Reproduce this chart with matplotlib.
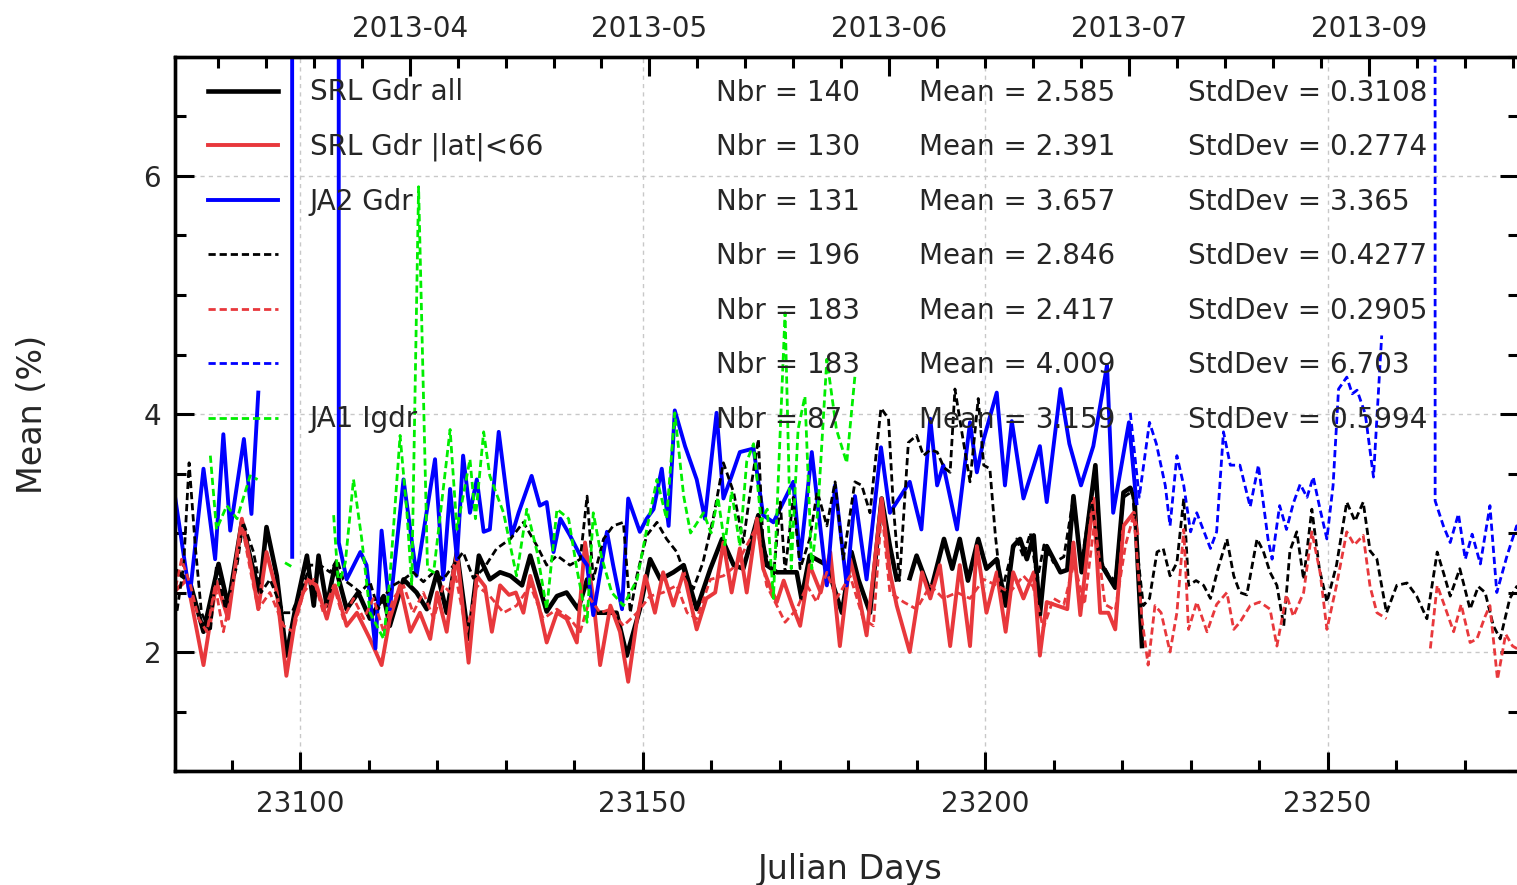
import matplotlib
matplotlib.use("Agg")
import matplotlib.pyplot as plt
from matplotlib.ticker import FixedLocator, MultipleLocator
import numpy as np

nan = np.nan

# SRL Gdr all (black solid)
srl_all_day = [23081.5, 23083.9, 23085.9, 23088.1, 23089.5, 23091.5, 23093.0, 23094.1, 23095.1, 23096.6,
               23098.0, 23099.3, 23101.0, 23102.0, 23102.7, 23103.9, 23105.1, 23106.8, 23108.5, 23110.2,
               23112.2, 23113.1, 23115.1, 23117.0, 23118.5, 23120.0, 23121.4, 23122.9, 23124.6, 23126.1,
               23127.7, 23129.2, 23130.7, 23132.4, 23133.6, 23136.0, 23137.5, 23138.9, 23140.6, 23141.9,
               23143.3, 23146.2, 23147.7, 23149.6, 23151.1, 23152.6, 23154.5, 23156.0, 23157.9, 23159.9,
               23161.6, 23163.3, 23164.7, 23166.9, 23168.1, 23169.6, 23172.5, 23173.2, 23174.4, 23176.9,
               23179.1, 23180.5, 23181.5, 23183.2, 23184.9, 23186.1, 23187.1, 23188.0, 23189.0, 23190.0,
               23192.0, 23194.0, 23195.2, 23196.3, 23197.5, 23199.0, 23200.2, 23201.7, 23203.0, 23204.1,
               23205.1, 23206.1, 23207.1, 23208.0, 23209.0, 23211.0, 23212.0, 23212.9, 23214.1, 23216.1,
               23217.0, 23219.0, 23220.2, 23221.2, 23221.8, 23222.9]
srl_all_val = [2.70, 2.59, 2.17, 2.74, 2.39, 3.09, 2.73, 2.50, 3.05, 2.64,
               1.97, 2.36, 2.81, 2.39, 2.81, 2.39, 2.73, 2.36, 2.50, 2.28,
               2.47, 2.22, 2.61, 2.50, 2.36, 2.67, 2.33, 2.84, 2.11, 2.81,
               2.61, 2.67, 2.64, 2.56, 2.81, 2.34, 2.47, 2.50, 2.36, 2.61,
               2.33, 2.33, 1.97, 2.36, 2.78, 2.61, 2.67, 2.73, 2.36, 2.70,
               2.95, 2.73, 2.70, 3.15, 2.73, 2.67, 2.67, 2.45, 2.81, 2.73,
               2.33, 2.84, 2.61, 2.33, 3.29, 2.89, 2.61, nan, 2.62, 2.81,
               2.50, 2.95, 2.70, 2.95, 2.60, 2.95, 2.70, 2.78, 2.39, 2.89,
               2.95, 2.78, 2.98, 2.31, 2.89, 2.67, 2.69, 3.31, 2.67, 3.57,
               2.73, 2.54, 3.34, 3.38, 3.30, 2.05]

# SRL Gdr |lat|<66 (red solid)
srl_lat_day = [23081.5, 23083.5, 23085.9, 23087.8, 23089.5, 23091.5, 23093.0, 23093.9, 23095.1, 23096.6,
               23098.0, 23099.3, 23101.0, 23102.4, 23103.9, 23105.1, 23106.8, 23108.3, 23110.2, 23111.9,
               23113.1, 23114.6, 23116.1, 23117.5, 23119.0, 23120.0, 23121.4, 23122.9, 23124.6, 23125.8,
               23127.0, 23128.0, 23129.2, 23130.5, 23131.5, 23132.6, 23133.6, 23134.8, 23136.0, 23137.5,
               23138.9, 23140.4, 23141.6, 23142.8, 23143.8, 23145.3, 23146.7, 23147.9, 23149.2, 23150.4,
               23151.8, 23153.0, 23154.5, 23156.0, 23157.9, 23159.3, 23160.6, 23161.8, 23163.0, 23164.2,
               23165.2, 23166.7, 23167.6, 23168.6, 23169.6, 23170.6, 23171.8, 23173.0, 23174.4, 23176.0,
               23177.4, 23178.8, 23180.3, 23181.5, 23182.7, 23184.9, 23186.1, 23187.1, 23189.0, 23190.8,
               23192.0, 23193.4, 23194.9, 23196.3, 23197.8, 23198.8, 23200.2, 23201.7, 23203.0, 23204.1,
               23205.6, 23207.1, 23208.0, 23209.0, 23211.0, 23212.0, 23212.9, 23213.9, 23215.8, 23216.8,
               23218.0, 23219.0, 23220.2, 23221.7, 23222.2]
srl_lat_val = [2.50, 2.61, 1.89, 2.59, 2.28, 3.12, 2.67, 2.36, 2.84, 2.50,
               1.80, 2.28, 2.61, 2.56, 2.28, 2.56, 2.22, 2.33, 2.11, 1.89,
               2.28, 2.56, 2.17, 2.33, 2.11, 2.50, 2.17, 2.84, 1.91, 2.64,
               2.55, 2.17, 2.56, 2.48, 2.50, 2.33, 2.64, 2.40, 2.08, 2.33,
               2.28, 2.08, 2.92, 2.45, 1.89, 2.39, 2.17, 1.75, 2.28, 2.64,
               2.33, 2.67, 2.39, 2.67, 2.19, 2.45, 2.50, 2.92, 2.50, 2.87,
               2.50, 3.12, 2.70, 2.55, 2.42, 2.60, 2.40, 2.22, 2.73, 2.50,
               2.84, 2.05, 2.78, 2.50, 2.14, 3.29, 2.67, 2.39, 2.00, 2.67,
               2.45, 2.73, 2.05, 2.73, 2.05, 2.89, 2.33, 2.67, 2.17, 2.67,
               2.45, 2.67, 1.97, 2.42, 2.38, 2.36, 2.92, 2.31, 3.29, 2.33,
               2.33, 2.19, 3.06, 3.17, 3.00]

# JA2 Gdr (blue solid)
ja2_gdr_day = [23081.5, 23083.9, 23085.9, 23087.6, 23088.8, 23089.8, 23091.8, 23092.9, 23093.9, 23096.0,
               23098.75, 23098.85, 23102.0, 23105.55, 23105.65, 23106.8, 23108.8, 23109.7, 23111.0, 23111.9,
               23113.1, 23115.1, 23117.0, 23119.7, 23120.9, 23121.9, 23122.9, 23123.8, 23124.8, 23125.8,
               23126.8, 23127.7, 23129.0, 23130.9, 23131.9, 23133.8, 23135.0, 23136.0, 23137.0, 23138.0,
               23139.4, 23140.9, 23141.9, 23142.8, 23144.8, 23145.7, 23147.0, 23147.9, 23149.6, 23150.6,
               23151.6, 23152.8, 23153.8, 23154.7, 23156.2, 23157.9, 23159.1, 23160.8, 23161.8, 23163.0,
               23164.2, 23166.2, 23167.6, 23169.1, 23172.0, 23173.0, 23174.7, 23175.7, 23176.9, 23178.1,
               23179.8, 23181.0, 23182.7, 23184.8, 23186.1, 23189.0, 23190.7, 23192.0, 23193.0, 23193.9,
               23195.9, 23197.8, 23198.8, 23199.8, 23201.7, 23202.9, 23203.9, 23205.6, 23208.0, 23209.0,
               23211.0, 23212.3, 23214.0, 23215.8, 23217.8, 23218.7, 23221.0, 23222.1]
ja2_gdr_val = [3.40, 2.47, 3.54, 2.78, 3.83, 3.02, 3.79, 3.16, 4.18, nan,
               60.0, 2.80, nan, 60.0, 2.92, 2.61, 2.84, 2.73, 2.03, 3.02,
               2.36, 3.45, 2.64, 3.62, 2.61, 3.37, 2.78, 3.65, 3.17, 3.45,
               3.01, 3.03, 3.85, 2.98, 3.17, 3.48, 3.23, 3.26, 2.84, 3.12,
               2.98, 2.81, 2.73, 2.31, 3.01, 2.73, 2.36, 3.29, 3.01, 3.12,
               3.20, 3.54, 3.06, 4.03, 3.73, 3.45, 3.12, 4.01, 3.29, 3.48,
               3.68, 3.71, 3.15, 3.09, 3.43, 2.78, 3.68, 3.17, 2.56, 3.40,
               2.56, 3.31, 2.61, 3.72, 3.17, 3.43, 3.03, 3.96, 3.40, 3.57,
               3.03, 3.93, 3.51, 3.79, 4.18, 3.40, 3.94, 3.29, 3.73, 3.26,
               4.21, 3.75, 3.40, 3.73, 4.41, 3.17, 3.93, 3.25]

# black dashed
blk_dash_day = [23081.5, 23082.0, 23083.0, 23083.8, 23084.7, 23085.6, 23086.9, 23087.8, 23089.1, 23090.8,
                23091.7, 23093.2, 23094.3, 23095.6, 23097.6, 23098.8, 23099.8, 23101.5, 23102.9, 23104.4,
                23105.4, 23106.3, 23107.5, 23108.8, 23110.2, 23111.4, 23112.7, 23113.6, 23115.1, 23116.5,
                23118.0, 23119.5, 23120.9, 23122.4, 23123.8, 23125.3, 23126.8, 23128.7, 23130.7, 23132.6,
                23134.6, 23136.0, 23137.5, 23139.4, 23140.9, 23141.9, 23142.8, 23144.3, 23145.7, 23147.2,
                23148.2, 23149.2, 23150.6, 23152.1, 23153.5, 23155.0, 23156.0, 23157.4, 23158.8, 23160.3,
                23161.8, 23163.3, 23164.7, 23165.6, 23166.9, 23167.6, 23169.1, 23170.1, 23170.8, 23172.0,
                23173.0, 23174.4, 23175.5, 23176.9, 23178.1, 23179.3, 23181.0, 23182.0, 23183.2, 23184.8,
                23185.9, 23186.6, 23187.5, 23188.8, 23190.0, 23191.0, 23192.0, 23193.0, 23194.0, 23194.9,
                23195.6, 23196.6, 23197.8, 23199.0, 23199.8, 23200.7, 23201.5, 23202.4, 23203.5, 23204.6,
                23205.6, 23206.6, 23207.6, 23208.6, 23210.0, 23211.5, 23212.9, 23214.0, 23215.5, 23216.6,
                23218.0, 23219.0, 23220.2, 23221.5, 23222.5, 23223.1, 23224.0, 23225.1, 23226.0, 23227.0,
                23228.0, 23229.0, 23229.7, 23230.8, 23231.9, 23232.9, 23234.0, 23235.3, 23236.3, 23237.2,
                23238.2, 23239.7, 23240.6, 23241.6, 23242.6, 23243.6, 23244.5, 23245.5, 23246.5, 23247.7,
                23248.8, 23249.9, 23251.3, 23252.8, 23254.0, 23255.2, 23256.2, 23257.2, 23258.6, 23260.1,
                23261.6, 23263.0, 23264.5, 23266.0, 23267.0, 23267.9, 23269.3, 23270.8, 23272.0, 23273.0,
                23274.2, 23275.2, 23276.6, 23277.6, 23278.5]
blk_dash_val = [2.40, 2.33, 2.73, 3.59, 2.89, 2.33, 2.17, 2.73, 2.36, 2.73,
                3.09, 2.84, 2.50, 2.61, 2.33, 2.33, 2.47, 2.73, 2.73, 2.67,
                2.78, 2.61, 2.56, 2.50, 2.59, 2.36, 2.50, 2.56, 2.61, 2.67,
                2.59, 2.67, 2.61, 2.73, 2.84, 2.62, 2.70, 2.87, 2.95, 3.09,
                2.89, 2.73, 2.81, 2.73, 2.78, 3.31, 2.61, 2.95, 3.06, 3.09,
                2.33, 2.65, 2.98, 3.09, 2.95, 2.84, 2.68, 2.53, 2.75, 3.12,
                3.59, 3.34, 2.92, 3.30, 3.79, 2.89, 2.64, 3.26, 2.67, 3.30,
                2.70, 2.95, 3.35, 3.06, 3.43, 2.78, 3.43, 3.40, 3.17, 4.05,
                3.96, 3.23, 2.60, 3.76, 3.82, 3.65, 3.70, 3.68, 3.55, 3.51,
                4.21, 3.85, 3.43, 4.13, 3.57, 3.54, 2.98, 2.50, 2.75, 2.95,
                2.80, 3.00, 2.60, 2.90, 2.75, 2.80, 3.30, 2.72, 3.30, 2.80,
                2.65, 2.60, 3.30, 3.35, 2.70, 2.39, 2.45, 2.84, 2.87, 2.64,
                2.75, 3.29, 2.56, 2.60, 2.56, 2.45, 2.70, 2.95, 2.64, 2.50,
                2.48, 2.95, 2.85, 2.67, 2.56, 2.22, 2.85, 3.01, 2.61, 3.20,
                2.70, 2.42, 2.73, 3.26, 3.10, 3.26, 2.85, 2.78, 2.33, 2.56,
                2.58, 2.47, 2.28, 2.84, 2.65, 2.47, 2.70, 2.36, 2.55, 2.50,
                2.22, 2.11, 2.45, 2.55, 2.50]

# red dashed
red_dash_day = [23081.5, 23082.7, 23084.0, 23085.2, 23086.4, 23087.6, 23088.8, 23090.0, 23091.5, 23093.0,
                23093.9, 23095.6, 23097.6, 23099.0, 23100.5, 23102.0, 23103.4, 23104.9, 23106.3, 23107.8,
                23109.3, 23110.7, 23112.2, 23113.6, 23115.1, 23116.5, 23118.0, 23119.5, 23120.9, 23121.9,
                23122.4, 23124.3, 23125.8, 23127.7, 23129.7, 23131.6, 23133.6, 23135.5, 23137.5, 23139.4,
                23140.9, 23142.3, 23143.8, 23145.3, 23147.2, 23149.2, 23151.1, 23153.0, 23155.0, 23156.5,
                23157.9, 23159.9, 23161.8, 23163.7, 23164.7, 23166.7, 23168.1, 23169.6, 23170.8, 23172.5,
                23174.0, 23175.4, 23176.9, 23178.3, 23180.3, 23182.2, 23183.7, 23184.9, 23186.1, 23188.1,
                23190.0, 23192.0, 23193.9, 23195.9, 23197.8, 23199.8, 23201.7, 23203.6, 23205.6, 23207.0,
                23208.5, 23210.0, 23211.5, 23213.0, 23214.5, 23216.0, 23217.5, 23219.0, 23220.5, 23221.7,
                23222.9, 23223.8, 23224.8, 23225.7, 23227.0, 23228.0, 23229.0, 23229.7, 23230.9, 23232.4,
                23233.8, 23235.3, 23236.3, 23237.2, 23238.7, 23240.1, 23241.6, 23242.6, 23244.0, 23245.0,
                23246.5, 23247.7, 23248.9, 23249.9, 23251.3, 23252.8, 23253.9, 23255.2, 23256.2, 23257.2,
                23258.6, 23262.0, 23265.0, 23266.0, 23267.0, 23268.4, 23269.5, 23270.8, 23271.8, 23273.0,
                23273.7, 23274.8, 23276.0, 23277.0, 23278.5]
red_dash_val = [2.45, 2.78, 2.56, 2.28, 2.17, 2.56, 2.17, 2.50, 3.06, 2.61,
                2.36, 2.50, 2.22, 2.17, 2.50, 2.61, 2.33, 2.56, 2.28, 2.45,
                2.28, 2.45, 2.17, 2.45, 2.56, 2.33, 2.50, 2.28, 2.56, 2.50,
                2.73, 2.17, 2.56, 2.47, 2.33, 2.39, 2.56, 2.28, 2.36, 2.28,
                2.17, 2.45, 2.33, 2.36, 2.22, 2.33, 2.47, 2.50, 2.56, 2.33,
                2.28, 2.61, 2.64, 2.73, 2.84, 3.06, 2.56, 2.39, 2.25, 2.36,
                2.56, 2.42, 2.67, 2.45, 2.64, 2.28, 2.22, 3.20, 2.50, 2.42,
                2.36, 2.56, 2.45, 2.50, 2.45, 2.61, 2.56, 2.50, 2.64, 2.55,
                2.20, 2.45, 2.40, 2.75, 2.40, 3.10, 2.40, 2.35, 2.90, 3.15,
                2.28, 1.89, 2.39, 2.33, 2.00, 2.33, 3.03, 2.19, 2.42, 2.17,
                2.40, 2.50, 2.19, 2.25, 2.39, 2.42, 2.36, 2.05, 2.48, 2.30,
                2.50, 3.01, 2.67, 2.19, 2.56, 3.01, 2.90, 2.98, 2.55, 2.33,
                2.28, nan, 2.03, 2.56, 2.40, 2.17, 2.40, 2.08, 2.11, 2.30,
                2.39, 1.77, 2.15, 2.05, 2.00]

# blue dashed
blu_dash_day = [23221.2, 23222.5, 23224.0, 23225.0, 23226.3, 23227.0, 23228.0, 23229.0, 23230.0, 23230.9,
                23232.9, 23233.8, 23234.8, 23235.8, 23237.2, 23238.7, 23239.9, 23241.3, 23241.9, 23243.0,
                23244.0, 23245.0, 23246.0, 23247.0, 23247.9, 23248.9, 23249.9, 23250.8, 23251.6, 23252.8,
                23253.6, 23254.3, 23255.5, 23256.7, 23257.9, 23262.0, 23265.6, 23265.7, 23266.9, 23267.9,
                23269.1, 23270.1, 23271.1, 23272.3, 23273.7, 23274.7, 23276.2, 23277.6, 23278.5]
blu_dash_val = [4.01, 3.30, 3.93, 3.75, 3.40, 3.06, 3.65, 3.40, 3.01, 3.17,
                2.87, 3.01, 3.85, 3.57, 3.57, 3.22, 3.57, 2.95, 2.78, 3.23,
                3.03, 3.25, 3.41, 3.30, 3.47, 3.20, 2.95, 3.40, 4.21, 4.31,
                4.17, 4.20, 4.00, 3.47, 4.66, nan, 60.0, 3.27, 3.06, 2.92,
                3.16, 2.78, 2.99, 2.74, 3.23, 2.50, 2.81, 3.06, 2.90]

# JA1 Igdr (green dashed)
ja1_day = [23086.9, 23087.8, 23089.3, 23090.8, 23092.7, 23093.8, 23096.0, 23097.8, 23099.0, 23102.0,
           23104.9, 23105.6, 23106.6, 23107.8, 23109.0, 23110.2, 23112.2, 23113.1, 23114.6, 23115.6,
           23116.3, 23117.3, 23118.6, 23119.5, 23120.5, 23121.9, 23122.9, 23124.8, 23125.6, 23126.8,
           23127.7, 23129.7, 23131.6, 23133.1, 23134.6, 23136.0, 23137.5, 23139.2, 23140.4, 23141.9,
           23142.8, 23144.0, 23145.5, 23147.2, 23149.2, 23150.6, 23152.1, 23153.5, 23154.7, 23156.0,
           23157.0, 23158.9, 23160.0, 23161.0, 23162.0, 23163.0, 23164.2, 23165.2, 23166.2, 23167.3,
           23168.2, 23169.1, 23170.8, 23171.7, 23172.7, 23173.7, 23174.7, 23175.6, 23176.9, 23178.3,
           23179.8, 23181.0]
ja1_val = [3.65, 3.03, 3.23, 3.12, 3.48, 3.45, nan, 2.75, 2.71, nan,
           3.15, 2.56, 2.75, 3.45, 2.95, 2.33, 2.11, 2.61, 3.82, 3.17,
           2.56, 5.91, 2.70, 2.67, 3.17, 3.87, 3.03, 3.62, 3.12, 3.85,
           3.48, 3.17, 2.64, 3.20, 2.84, 2.36, 3.20, 3.12, 2.70, 2.25,
           3.17, 2.80, 2.50, 2.39, 2.61, 3.03, 3.45, 3.12, 4.01, 3.31,
           3.00, 3.17, 3.00, 3.30, 2.90, 3.35, 2.89, 3.60, 3.75, 3.10,
           3.20, 2.45, 4.85, 2.70, 3.87, 4.15, 2.70, 3.20, 4.46, 3.87,
           3.59, 4.32]

labels = ["SRL Gdr all", "SRL Gdr |lat|<66", "JA2 Gdr", "", "", "", "JA1 Igdr"]
nbr = [140, 130, 131, 196, 183, 183, 87]
means = ["2.585", "2.391", "3.657", "2.846", "2.417", "4.009", "3.159"]
stds = ["0.3108", "0.2774", "3.365", "0.4277", "0.2905", "6.703", "0.5994"]

top_tick_days = [23116, 23151, 23186, 23221, 23256]
top_tick_labels = ["2013-04", "2013-05", "2013-06", "2013-07", "2013-09"]

RED = "#e8383c"
BLUE = "#0000ff"
GREEN = "#00ee00"
TXT = "#262626"
DASH = (0, (2.6, 1.4))

fig = plt.figure(figsize=(15.17, 8.85), dpi=100)
ax = fig.add_axes([0.1154, 0.1288, 0.886, 0.8068])

l1, = ax.plot(srl_all_day, srl_all_val, color="black", lw=3.3)
l2, = ax.plot(srl_lat_day, srl_lat_val, color=RED, lw=2.8)
l3, = ax.plot(ja2_gdr_day, ja2_gdr_val, color=BLUE, lw=2.8)
l4, = ax.plot(blk_dash_day, blk_dash_val, color="black", lw=2.0, ls=DASH)
l5, = ax.plot(red_dash_day, red_dash_val, color=RED, lw=2.0, ls=DASH)
l6, = ax.plot(blu_dash_day, blu_dash_val, color=BLUE, lw=2.0, ls=DASH)
l7, = ax.plot(ja1_day, ja1_val, color=GREEN, lw=2.0, ls=DASH)

ax.set_xlim(23081.75, 23277.96)
ax.set_ylim(1, 7)

ax.xaxis.set_major_locator(MultipleLocator(50))
ax.xaxis.set_minor_locator(MultipleLocator(10))
ax.yaxis.set_major_locator(MultipleLocator(2))
ax.yaxis.set_minor_locator(MultipleLocator(0.5))
ax.tick_params(which="both", direction="in", width=2.2, colors="black",
               labelcolor=TXT, labelsize=20, top=False, right=True)
ax.tick_params(which="major", length=14)
ax.tick_params(which="minor", length=8)
ax.tick_params(axis="x", pad=14)
ax.tick_params(axis="y", pad=10)
ax.grid(True, which="major", color="#c8c8c8", ls=(0, (3, 3)), lw=1)
for s in ax.spines.values():
    s.set_linewidth(2.4)

top = ax.twiny()
top.set_xlim(ax.get_xlim())
top.xaxis.set_major_locator(FixedLocator(top_tick_days))
top.xaxis.set_minor_locator(FixedLocator(np.arange(23081, 23279, 7)))
top.set_xticklabels(top_tick_labels)
top.tick_params(which="both", direction="in", width=2.2, labelcolor=TXT, labelsize=20, pad=10)
top.tick_params(which="major", length=14)
top.tick_params(which="minor", length=8)
for s in top.spines.values():
    s.set_linewidth(2.4)

ax.set_xlabel("Julian Days", fontsize=24, color=TXT)
ax.set_ylabel("Mean (%)", fontsize=24, color=TXT)
ax.xaxis.set_label_coords(0.502, -0.115)
ax.yaxis.set_label_coords(-0.094, 0.5)

ax.legend([l1, l2, l3, l4, l5, l6, l7], labels, loc="upper left",
          bbox_to_anchor=(0.0246, 0.970), frameon=False, fontsize=20,
          handlelength=2.5, handletextpad=1.15, labelspacing=0.95,
          borderpad=0, borderaxespad=0, labelcolor=TXT)

row_y0 = 0.9496
row_step = 0.0763
for i in range(len(nbr)):
    yy = row_y0 - i * row_step
    ax.text(0.4025, yy, f"Nbr = {nbr[i]}", transform=ax.transAxes, fontsize=20, color=TXT, va="center")
    ax.text(0.5536, yy, f"Mean = {means[i]}", transform=ax.transAxes, fontsize=20, color=TXT, va="center")
    ax.text(0.7537, yy, f"StdDev = {stds[i]}", transform=ax.transAxes, fontsize=20, color=TXT, va="center")

fig.savefig("out.png", dpi=100)
